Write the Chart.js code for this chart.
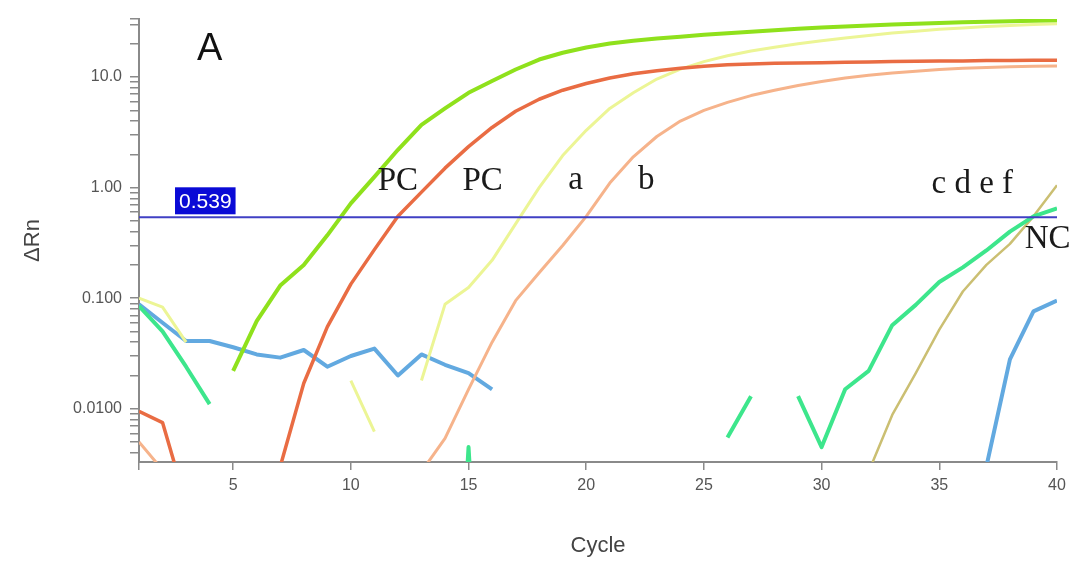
<!DOCTYPE html>
<html>
<head>
<meta charset="utf-8">
<script src="https://cdn.jsdelivr.net/npm/chart.js@4.4.0/dist/chart.umd.min.js"></script>
<style>
  html, body { margin: 0; padding: 0; background: #fff; }
</style>
</head>
<body>
<canvas id="chart" width="1077" height="563"></canvas>
<script>
// amplification plot data (delta Rn per cycle, null = off the log scale / no reading)
const cycles = [1, 2, 3, 4, 5, 6, 7, 8, 9, 10, 11, 12, 13, 14, 15, 16, 17, 18, 19, 20,
  21, 22, 23, 24, 25, 26, 27, 28, 29, 30, 31, 32, 33, 34, 35, 36, 37, 38, 39, 40];

const pcGreen = [null, null, null, null, 0.022, 0.062, 0.13, 0.20, 0.37, 0.72,
  1.25, 2.2, 3.7, 5.2, 7.2, 9.2, 11.7, 14.4, 16.6, 18.5,
  20.1, 21.3, 22.3, 23.2, 24.1, 24.9, 25.7, 26.5, 27.3, 28.0,
  28.7, 29.3, 29.9, 30.4, 30.9, 31.3, 31.7, 32.0, 32.3, 32.6];

const pcRed = [0.0095, 0.0075, 0.0014, null, null, null, 0.003, 0.017, 0.055, 0.134,
  0.275, 0.55, 0.91, 1.5, 2.35, 3.5, 4.9, 6.3, 7.6, 8.75,
  9.8, 10.7, 11.4, 12.0, 12.5, 12.9, 13.1, 13.3, 13.4, 13.5,
  13.6, 13.7, 13.8, 13.9, 14.0, 14.0, 14.1, 14.1, 14.2, 14.2];

const sampleA = [0.10, 0.083, 0.040, null, null, null, null, null, null, 0.018,
  0.0062, null, 0.018, 0.088, 0.125, 0.22, 0.47, 1.0, 1.95, 3.3,
  5.2, 7.2, 9.6, 11.8, 13.8, 15.6, 17.2, 18.6, 20.0, 21.3,
  22.6, 23.8, 25.0, 26.0, 27.0, 27.8, 28.6, 29.3, 29.9, 30.4];

const sampleB = [0.0050, 0.0028, null, null, null, null, null, null, null, null,
  null, null, 0.0027, 0.0054, 0.015, 0.040, 0.095, 0.17, 0.30, 0.55,
  1.1, 1.9, 2.9, 4.0, 5.0, 5.9, 6.8, 7.6, 8.4, 9.1,
  9.8, 10.4, 10.9, 11.3, 11.7, 12.0, 12.2, 12.4, 12.5, 12.6];

const tealCurve = [0.085, 0.050, 0.024, 0.011, null, null, null, null, null, null,
  null, null, null, 0.000001, 0.0045, 0.000001, null, null, null, null,
  null, null, null, null, null, 0.0055, 0.013, null, 0.013, 0.0045,
  0.015, 0.022, 0.057, 0.087, 0.14, 0.19, 0.27, 0.40, 0.55, 0.65];

const oliveCurve = [null, null, null, null, null, null, null, null, null, null,
  null, null, null, null, null, null, null, null, null, null,
  null, null, null, null, null, null, null, null, null, null,
  null, 0.0027, 0.0088, 0.021, 0.052, 0.115, 0.20, 0.31, 0.55, 1.05];

const blueCurve = [0.088, 0.060, 0.041, 0.041, 0.036, 0.031, 0.029, 0.034, 0.024, 0.030,
  0.035, 0.020, 0.031, 0.025, 0.021, 0.015, null, null, null, null,
  null, null, null, null, null, null, null, null, null, null,
  null, null, null, null, null, null, 0.003, 0.028, 0.076, 0.095];

const threshold = 0.539;

const xTickValues = [1, 5, 10, 15, 20, 25, 30, 35, 40];
const yMajorValues = [0.01, 0.1, 1, 10];
const yMajorLabels = ['0.0100', '0.100', '1.00', '10.0'];
const yMinorSteps = [1, 2, 3, 4, 5, 6, 7, 8, 9];

const annotationTexts = ['PC', 'PC', 'a', 'b', 'c d e f', 'NC'];
const annotationCycles = [12.0, 15.6, 19.55, 22.55, 36.4, 39.6];
const annotationValues = [0.96, 0.96, 0.97, 0.97, 0.90, 0.286];

const Y_MIN = 0.0033;
const Y_MAX = 33.5;

const toPoints = (values) => values.map((v, i) => ({ x: cycles[i], y: v }));

const curve = (values, color, width) => ({
  data: toPoints(values),
  borderColor: color,
  borderWidth: width,
  pointRadius: 0,
  tension: 0,
  borderJoinStyle: 'round',
  spanGaps: false,
  clip: 0,
  order: 2,
});

// text labels and the threshold tag
const annotationPlugin = {
  id: 'annotationPlugin',
  afterDatasetsDraw(chart) {
    const { ctx } = chart;
    const xs = chart.scales.x;
    const ys = chart.scales.y;
    ctx.save();

    // threshold value tag
    const ty = ys.getPixelForValue(threshold);
    const tx = xs.getPixelForValue(2.53);
    ctx.font = '21px "Liberation Sans", Arial, sans-serif';
    const tw = ctx.measureText('0.539').width;
    ctx.fillStyle = '#0a0ad6';
    ctx.fillRect(tx, ty - 30, tw + 8, 27);
    ctx.fillStyle = '#ffffff';
    ctx.textAlign = 'left';
    ctx.textBaseline = 'alphabetic';
    ctx.fillText('0.539', tx + 4, ty - 9);

    // panel letter
    ctx.fillStyle = '#111';
    ctx.font = '38px "Liberation Sans", Arial, sans-serif';
    ctx.textAlign = 'center';
    ctx.fillText('A', xs.getPixelForValue(4.0), ys.getPixelForValue(14.4));

    // curve labels
    ctx.font = '33px "Liberation Serif", "Times New Roman", serif';
    ctx.fillStyle = '#1a1a1a';
    annotationTexts.forEach((t, i) => {
      ctx.fillText(t, xs.getPixelForValue(annotationCycles[i]), ys.getPixelForValue(annotationValues[i]));
    });
    ctx.restore();
  }
};

const axisGray = '#8a8a8a';
const tickFont = { family: '"Liberation Sans", Arial, sans-serif', size: 16 };

new Chart(document.getElementById('chart'), {
  type: 'line',
  data: {
    datasets: [
      {
        data: [{ x: cycles[0], y: threshold }, { x: cycles[cycles.length - 1], y: threshold }],
        borderColor: '#4040c4',
        borderWidth: 2,
        pointRadius: 0,
        clip: 0,
        order: 0,
      },
      curve(pcGreen, '#8fe11c', 4),
      curve(pcRed, '#e96c43', 3.5),
      curve(sampleA, '#ecf595', 3),
      curve(sampleB, '#f6b38b', 3),
      curve(tealCurve, '#3de68c', 4),
      curve(oliveCurve, '#cbbf72', 2.5),
      curve(blueCurve, '#62a9e0', 4),
    ],
  },
  options: {
    responsive: false,
    animation: false,
    layout: { padding: { top: 19, right: 20, left: 0, bottom: 0 } },
    plugins: {
      legend: { display: false },
      tooltip: { enabled: false },
    },
    scales: {
      x: {
        type: 'linear',
        min: 1,
        max: 40,
        afterBuildTicks: (scale) => {
          scale.ticks = xTickValues.map((v) => ({ value: v }));
        },
        afterFit: (scale) => { scale.height = 101; },
        ticks: {
          autoSkip: false,
          maxRotation: 0,
          color: '#555',
          font: tickFont,
          padding: 6,
          callback: (v) => (v === 1 ? '' : String(v)),
        },
        grid: {
          drawOnChartArea: false,
          drawTicks: true,
          tickLength: 8,
          color: axisGray,
          lineWidth: 1.5,
        },
        border: { color: axisGray, width: 2 },
        title: {
          display: true,
          text: 'Cycle',
          color: '#444',
          font: { family: '"Liberation Sans", Arial, sans-serif', size: 22 },
          padding: { top: 0, bottom: 4 },
        },
      },
      y: {
        type: 'logarithmic',
        min: Y_MIN,
        max: Y_MAX,
        afterBuildTicks: (scale) => {
          const ticks = [];
          yMajorValues.concat([100]).forEach((m) => {
            yMinorSteps.forEach((s) => {
              const v = (m / 10) * s;
              if (v >= Y_MIN && v <= Y_MAX) ticks.push({ value: v });
            });
          });
          ticks.push({ value: Y_MAX });
          scale.ticks = ticks;
        },
        afterFit: (scale) => { scale.width = 139; },
        ticks: {
          autoSkip: false,
          color: '#555',
          font: tickFont,
          padding: 8,
          callback: (v) => {
            const idx = yMajorValues.findIndex((m) => Math.abs(m - v) / m < 1e-6);
            return idx >= 0 ? yMajorLabels[idx] : '';
          },
        },
        grid: {
          drawOnChartArea: false,
          drawTicks: true,
          tickLength: 9,
          color: axisGray,
          lineWidth: 1.5,
        },
        border: { color: axisGray, width: 2 },
        title: {
          display: true,
          text: 'ΔRn',
          color: '#444',
          font: { family: '"Liberation Sans", Arial, sans-serif', size: 22 },
          padding: { top: 20, bottom: 0 },
        },
      },
    },
  },
  plugins: [annotationPlugin],
});
</script>
</body>
</html>
